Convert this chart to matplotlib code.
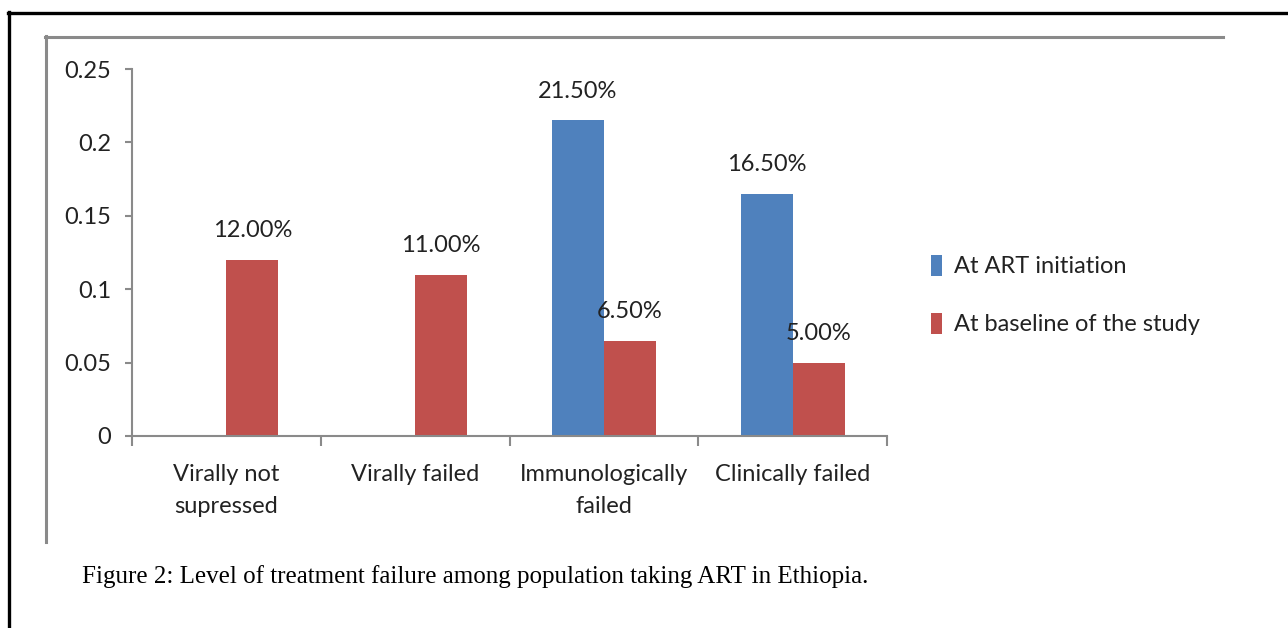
import numpy as np
import matplotlib.pyplot as plt
from matplotlib.lines import Line2D

categories = ["Virally not\nsupressed", "Virally failed", "Immunologically\nfailed", "Clinically failed"]
at_art_initiation = [0.0, 0.0, 0.215, 0.165]
at_baseline = [0.12, 0.11, 0.065, 0.05]
series_names = ["At ART initiation", "At baseline of the study"]
yticks = [0, 0.05, 0.1, 0.15, 0.2, 0.25]
ytick_labels = ["0", "0.05", "0.1", "0.15", "0.2", "0.25"]
caption = "Figure 2: Level of treatment failure among population taking ART in Ethiopia."

blue = "#4F81BD"
red = "#C0504D"
grey = "#8a8a8a"

plt.rcParams['font.family'] = ['Lato', 'DejaVu Sans']

W, H = 1288, 628
fig = plt.figure(figsize=(W / 100, H / 100), dpi=100)

# frame lines around the figure (pixel coords -> figure fractions)
def hline(y, x0, x1, c, lw):
    fig.add_artist(Line2D([x0 / W, x1 / W], [1 - y / H, 1 - y / H], color=c, lw=lw))

def vline(x, y0, y1, c, lw):
    fig.add_artist(Line2D([x / W, x / W], [1 - y0 / H, 1 - y1 / H], color=c, lw=lw))

hline(13, 8, W, "black", 2.4)
vline(9, 12, H, "black", 2.4)
hline(37, 45, 1223, grey, 2.2)
vline(46, 36, 542, grey, 2.2)

ax = fig.add_axes([132 / W, 1 - 436 / H, (887 - 132) / W, (436 - 69) / H])

x = np.arange(len(categories))
bw = 0.276
b1 = ax.bar(x - bw / 2, at_art_initiation, bw, color=blue, label=series_names[0])
b2 = ax.bar(x + bw / 2, at_baseline, bw, color=red, label=series_names[1])

for bars, vals in [(b1, at_art_initiation), (b2, at_baseline)]:
    for rect, v in zip(bars, vals):
        if v == 0:
            continue
        ax.annotate("%.2f%%" % (v * 100), (rect.get_x() + rect.get_width() / 2, v),
                    xytext=(0, 21), textcoords="offset points", ha="center", va="center",
                    fontsize=17, color="#222222")

ax.set_xlim(-0.5, len(categories) - 0.5)
ax.set_ylim(0, 0.25)
ax.set_yticks(yticks)
ax.set_yticklabels(ytick_labels)
ax.set_xticks(x)
ax.set_xticklabels(categories, linespacing=1.65)
ax.set_xticks(np.arange(len(categories) + 1) - 0.5, minor=True)

for s in ["top", "right"]:
    ax.spines[s].set_visible(False)
for s in ["left", "bottom"]:
    ax.spines[s].set_color(grey)
    ax.spines[s].set_linewidth(1.5)

ax.tick_params(axis="y", length=5, width=1.5, color=grey, pad=10, labelsize=17, labelcolor="#222222")
ax.tick_params(axis="x", which="major", length=0, pad=20, labelsize=17, labelcolor="#222222")
ax.tick_params(axis="x", which="minor", length=7, width=1.5, color=grey)

ax.legend(loc="center left", bbox_to_anchor=(910 / W, 1 - 295 / H), bbox_transform=fig.transFigure,
          frameon=False, fontsize=17, handlelength=0.45, handleheight=1.0, handletextpad=0.5,
          labelspacing=1.5, labelcolor="#222222")

fig.text(82 / W, 1 - 577 / H, caption, family="Liberation Serif", fontsize=18,
         va="center", ha="left", color="black")

fig.savefig("out.png", dpi=100)
